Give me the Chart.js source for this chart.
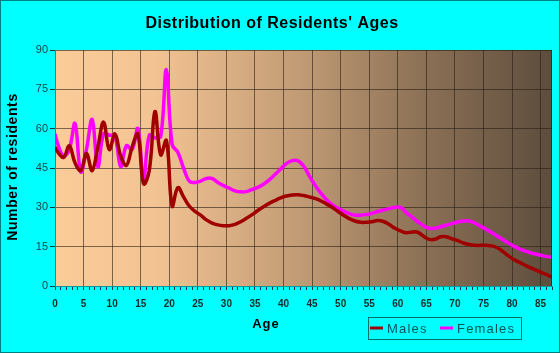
<!DOCTYPE html>
<html>
<head>
<meta charset="utf-8">
<script src="https://cdn.jsdelivr.net/npm/chart.js@4"></script>
<style>
  html, body { margin: 0; padding: 0; background: #00ffff; }
  canvas { display: block; }
</style>
</head>
<body>
<canvas id="ages-chart" width="560" height="353"></canvas>
<script>
// ages (x positions)
const ages = [0, 0.5, 1.5, 2.5, 3.5, 4.5, 5.5, 6.5, 7.5, 8.5, 9.5,
    10.5, 11.5, 12.5, 13.5, 14.5, 15.5, 16.5, 17.5, 18.5, 19.5,
    20.5, 21.5, 22.5, 23.5, 24.5, 25.5, 26.5, 27.5, 28.5, 29.5,
    30.5, 31.5, 32.5, 33.5, 34.5, 35.5, 36.5, 37.5, 38.5, 39.5,
    40.5, 41.5, 42.5, 43.5, 44.5, 45.5, 46.5, 47.5, 48.5, 49.5,
    50.5, 51.5, 52.5, 53.5, 54.5, 55.5, 56.5, 57.5, 58.5, 59.5,
    60.5, 61.5, 62.5, 63.5, 64.5, 65.5, 66.5, 67.5, 68.5, 69.5,
    70.5, 71.5, 72.5, 73.5, 74.5, 75.5, 76.5, 77.5, 78.5, 79.5,
    80.5, 81.5, 82.5, 83.5, 84.5, 85.5, 86.5, 87];

const males = [53, 51, 49, 53.5, 47, 44, 50.5, 44, 53, 62.5, 52,
    58, 49.5, 46, 53, 58, 39, 44, 66.5, 50, 55.5,
    30.5, 37.5, 34, 30.5, 28.5, 27, 25.2, 24, 23.3, 23,
    23, 23.5, 24.5, 25.8, 27.2, 28.8, 30.2, 31.5, 32.6, 33.6,
    34.3, 34.7, 34.8, 34.5, 34, 33.4, 32.5, 31.3, 30, 28.5,
    27, 25.7, 24.8, 24.3, 24.3, 24.5, 25, 24.6, 23.5, 22,
    21, 20.3, 20.6, 20.5, 19, 17.8, 17.8, 18.8, 18.8, 18,
    17.3, 16.4, 15.8, 15.5, 15.5, 15.5, 15.3, 14.5, 13, 11.3,
    9.9, 8.8, 7.7, 6.7, 5.8, 4.8, 3.9, 3.3];

const females = [58, 54, 49.5, 52, 62, 43.5, 52, 63.5, 45.5, 58, 57.5,
    57, 45.5, 53.5, 52, 60, 41, 57.5, 56.5, 57, 82.5,
    54, 51, 45, 40, 39.5, 40, 41, 41, 39.5, 38.3,
    37.3, 36.3, 35.9, 36, 36.8, 37.6, 38.8, 40.5, 42.5, 44.6,
    46.7, 47.8, 47.8, 45.8, 42, 38.5, 35.5, 33, 31, 29.7,
    28.6, 27.6, 27, 27, 27.3, 27.7, 28.4, 29, 29.5, 30,
    30, 28, 26.3, 24.5, 23, 22, 22, 22.6, 23.2, 23.8,
    24.4, 24.8, 24.8, 24, 22.8, 21.6, 20.3, 18.9, 17.5, 16.2,
    15, 14, 13.2, 12.5, 12, 11.5, 11.1, 11];

const yTicks = [0, 15, 30, 45, 60, 75, 90];

const FONT = "'Liberation Sans', Arial, sans-serif";
const GRID = 'rgba(40, 30, 20, 0.6)';

// background, titles, legend, frame
const decorPlugin = {
    id: 'decor',
    beforeDraw(chart) {
        const { ctx, chartArea: a } = chart;
        ctx.save();
        ctx.fillStyle = '#00ffff';
        ctx.fillRect(0, 0, chart.width, chart.height);
        const g = ctx.createLinearGradient(a.left, 0, a.right, 0);
        g.addColorStop(0, '#fbcb98');
        g.addColorStop(0.2, '#f3c393');
        g.addColorStop(0.5, '#c09a74');
        g.addColorStop(0.75, '#8a6f55');
        g.addColorStop(1, '#5d4d3d');
        ctx.fillStyle = g;
        ctx.fillRect(a.left, a.top, a.right - a.left, a.bottom - a.top);
        ctx.restore();
    },
    afterDraw(chart) {
        const { ctx, chartArea: a } = chart;
        ctx.save();

        // right edge of plot
        ctx.strokeStyle = GRID;
        ctx.lineWidth = 1;
        ctx.beginPath();
        ctx.moveTo(a.right - 0.5, a.top);
        ctx.lineTo(a.right - 0.5, a.bottom);
        ctx.stroke();

        // outer frame
        ctx.strokeStyle = '#008080';
        ctx.strokeRect(0.5, 0.5, chart.width - 1, chart.height - 1);

        ctx.fillStyle = '#000';
        ctx.textAlign = 'center';
        ctx.textBaseline = 'alphabetic';

        // main title
        ctx.letterSpacing = '0.5px';
        ctx.font = 'bold 16px ' + FONT;
        ctx.fillText("Distribution of Residents' Ages", 272, 28);

        // x title
        ctx.letterSpacing = '1px';
        ctx.font = 'bold 13px ' + FONT;
        ctx.fillText('Age', 266, 328);

        // y title
        ctx.save();
        ctx.translate(17, 167);
        ctx.rotate(-Math.PI / 2);
        ctx.letterSpacing = '0.6px';
        ctx.font = 'bold 14px ' + FONT;
        ctx.fillText('Number of residents', 0, 0);
        ctx.restore();

        // legend box
        ctx.strokeStyle = '#007070';
        ctx.lineWidth = 1;
        ctx.strokeRect(368.5, 317.5, 153, 22);
        ctx.textAlign = 'left';
        ctx.font = '13px ' + FONT;
        ctx.letterSpacing = '1.2px';
        const items = [[370, 387], [440, 457]];
        chart.data.datasets.forEach((ds, i) => {
            const [lx, tx] = items[i];
            ctx.strokeStyle = ds.borderColor;
            ctx.lineWidth = 3;
            ctx.beginPath();
            ctx.moveTo(lx, 328);
            ctx.lineTo(lx + 13, 328);
            ctx.stroke();
            ctx.fillStyle = '#005555';
            ctx.fillText(ds.label, tx, 333);
        });

        ctx.restore();
    }
};

new Chart(document.getElementById('ages-chart'), {
    type: 'line',
    data: {
        datasets: [
            {
                label: 'Males',
                data: ages.map((a, i) => ({ x: a, y: males[i] })),
                borderColor: '#a00000',
                borderWidth: 3.5,
                pointRadius: 0,
                tension: 0.4,
                fill: false
            },
            {
                label: 'Females',
                data: ages.map((a, i) => ({ x: a, y: females[i] })),
                borderColor: '#ff00ff',
                borderWidth: 3.5,
                pointRadius: 0,
                tension: 0.4,
                fill: false
            }
        ]
    },
    options: {
        responsive: false,
        animation: false,
        devicePixelRatio: 1,
        layout: { padding: { left: 0, top: 50, right: 6, bottom: 0 } },
        plugins: {
            legend: { display: false },
            title: { display: false },
            tooltip: { enabled: false }
        },
        scales: {
            x: {
                type: 'linear',
                min: 0,
                max: 87,
                afterFit: s => { s.height = 67; },
                border: { color: '#009999', width: 1 },
                grid: {
                    color: c => (c.tick && c.tick.value % 5 === 0 && c.tick.value !== 0) ? GRID : 'rgba(0,0,0,0)',
                    tickColor: '#1a3a3a',
                    tickLength: 4
                },
                ticks: {
                    stepSize: 1,
                    autoSkip: false,
                    maxTicksLimit: 200,
                    maxRotation: 0,
                    padding: 8,
                    color: '#1a2a2a',
                    font: { family: FONT, size: 10, weight: 'bold' },
                    callback: v => (v % 5 === 0 ? String(v) : '')
                }
            },
            y: {
                min: 0,
                max: 90,
                afterFit: s => { s.width = 55; },
                afterBuildTicks: s => { s.ticks = yTicks.map(v => ({ value: v })); },
                border: { color: '#009999', width: 1 },
                grid: {
                    color: c => (c.tick && c.tick.value === 0) ? 'rgba(0,0,0,0)' : GRID,
                    tickColor: '#1a3a3a',
                    tickLength: 5
                },
                ticks: {
                    padding: 2,
                    color: '#1f3f3f',
                    font: { family: FONT, size: 11 }
                }
            }
        }
    },
    plugins: [decorPlugin]
});
</script>
</body>
</html>
